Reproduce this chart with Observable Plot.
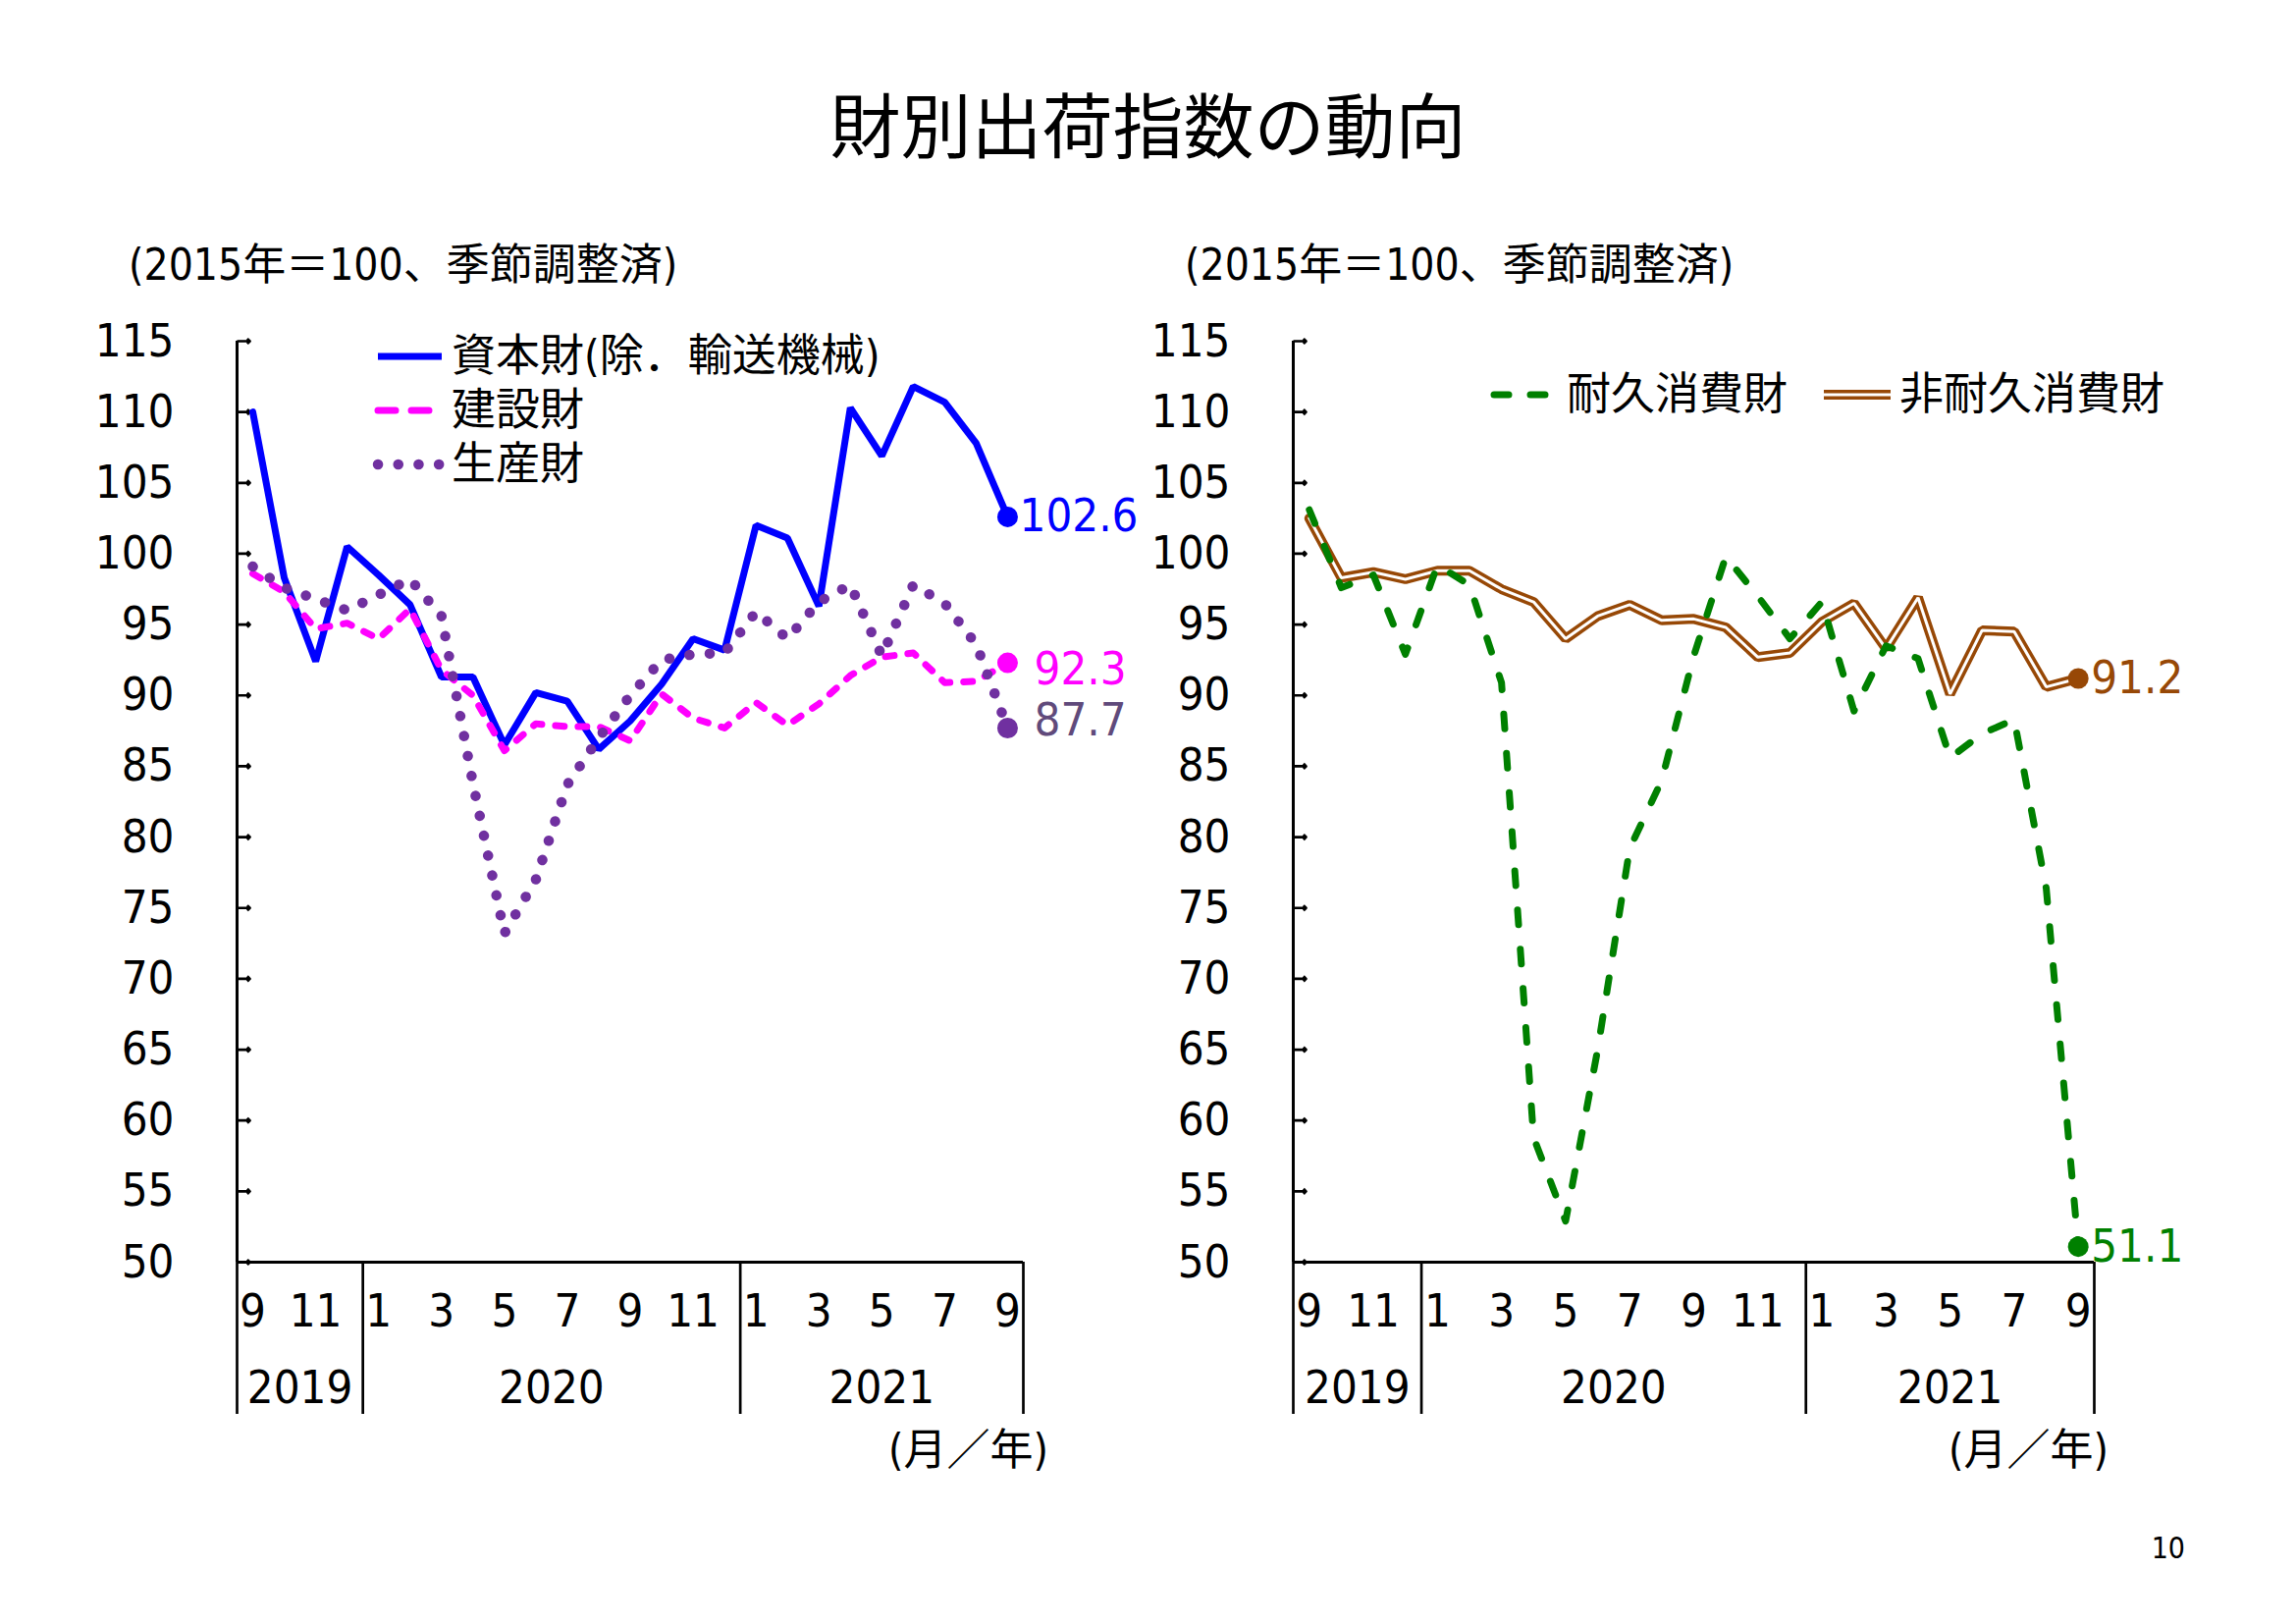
<!DOCTYPE html>
<html>
<head>
<meta charset="utf-8">
<script src="https://cdn.jsdelivr.net/npm/d3@7"></script>
<script src="https://cdn.jsdelivr.net/npm/@observablehq/plot@0.6"></script>
<style>
  body { margin: 0; background: #fff; }
  #page { position: relative; width: 2339px; height: 1654px; overflow: hidden; background: #fff; color: #000;
    font-family: "Liberation Sans Narrow", "Arial Narrow", "DejaVu Sans Condensed", "Noto Sans CJK JP", sans-serif; }
  .abs { position: absolute; white-space: nowrap; line-height: 1.2; transform: translateY(-50%); }
  .plot { position: absolute; }
</style>
</head>
<body>
<div id="page"></div>
<script>
// ---------------- data ----------------
const monthLabels = ["9","10","11","12","1","2","3","4","5","6","7","8","9","10","11","12","1","2","3","4","5","6","7","8","9"];
const yearOfMonth = [2019,2019,2019,2019,2020,2020,2020,2020,2020,2020,2020,2020,2020,2020,2020,2020,2021,2021,2021,2021,2021,2021,2021,2021,2021];

// 資本財(除.輸送機械)
const capitalGoods = [110.0, 98.3, 92.4, 100.5, 98.5, 96.4, 91.3, 91.3, 86.5, 90.2, 89.6, 86.2, 88.2, 90.8, 94.0, 93.2, 102.0, 101.1, 96.3, 110.3, 106.9, 111.8, 110.7, 107.8, 102.6];
// 建設財
const constructionGoods = [98.6, 97.3, 94.7, 95.1, 94.0, 96.1, 91.8, 90.0, 86.1, 88.0, 87.8, 87.8, 86.8, 90.1, 88.4, 87.7, 89.5, 87.9, 89.4, 91.4, 92.7, 93.0, 90.9, 91.0, 92.3];
// 生産財
const producerGoods = [99.1, 97.6, 96.8, 96.0, 97.1, 98.2, 95.6, 83.8, 73.2, 77.0, 83.7, 87.0, 90.0, 92.5, 92.9, 93.0, 95.9, 94.0, 96.6, 97.8, 92.8, 97.8, 96.5, 93.6, 87.7];
// 耐久消費財
const durableGoods = [103.1, 97.6, 98.5, 92.9, 99.2, 97.8, 90.9, 58.8, 52.9, 65.0, 79.2, 84.0, 92.8, 99.8, 97.0, 94.0, 96.6, 88.9, 93.5, 92.6, 85.6, 87.3, 88.3, 76.4, 51.1];
// 非耐久消費財
const nondurableGoods = [102.5, 98.3, 98.7, 98.2, 98.8, 98.8, 97.5, 96.6, 94.0, 95.6, 96.4, 95.3, 95.4, 94.8, 92.7, 93.0, 95.2, 96.5, 93.3, 96.9, 90.1, 94.6, 94.5, 90.6, 91.2];

const yTicks = [50, 55, 60, 65, 70, 75, 80, 85, 90, 95, 100, 105, 110, 115];
const yDomain = [50, 115];

const titleText = "財別出荷指数の動向";
const unitText = "(2015年＝100、季節調整済)";
const axisUnitText = "(月／年)";
const pageNumber = "10";

// ---------------- styling ----------------
const FONT = `"Liberation Sans Narrow","Arial Narrow","DejaVu Sans Condensed","Noto Sans CJK JP",sans-serif`;
const CJK = `"Noto Sans CJK JP",sans-serif`;
const FS = 47;

const n = monthLabels.length;
const xDomain = [-0.5, n - 0.5];
const monthTicks = d3.range(0, n, 2);
const yearBounds = [xDomain[0], ...d3.range(n).filter(i => monthLabels[i] === "1").map(i => i - 0.5), xDomain[1]];
const yearCenters = d3.pairs(yearBounds).map(([a, b]) => (a + b) / 2);

const toRows = arr => arr.map((v, i) => ({i, v}));

function chartWithLabels(cfg) {
  const {ends} = cfg;
  return Plot.plot({
    width: cfg.width, height: 1200,
    marginTop: 47, marginBottom: 215, marginLeft: cfg.marginLeft, marginRight: cfg.marginRight,
    x: {type: "linear", domain: xDomain},
    y: {type: "linear", domain: yDomain},
    style: {fontFamily: FONT, fontSize: FS + "px", background: "transparent", color: "black", overflow: "visible"},
    marks: [
      Plot.axisY(yTicks, {tickSize: 0, tickPadding: 64, fontSize: FS, label: null}),
      Plot.vector(yTicks, {y: d => d, frameAnchor: "left", rotate: 90, length: 13, anchor: "start",
        stroke: "black", strokeWidth: 2.7, strokeLinecap: "butt"}),
      Plot.axisX(monthTicks, {tickSize: 0, tickPadding: 32, fontSize: FS, label: null, tickFormat: i => monthLabels[i]}),
      Plot.axisX(yearBounds, {tickSize: 155, strokeWidth: 2.7, label: null, tickFormat: () => ""}),
      Plot.axisX(yearCenters, {tickSize: 0, tickPadding: 110, fontSize: FS, label: null, tickFormat: c => String(yearOfMonth[Math.round(c)])}),
      Plot.ruleX([xDomain[0]], {stroke: "black", strokeWidth: 3}),
      Plot.ruleY([yDomain[0]], {stroke: "black", strokeWidth: 3}),
      ...cfg.lines,
      ...ends.map(e => Plot.dot([e], {x: "i", y: "v", r: 10.5, fill: e.color})),
      ...ends.map(e => Plot.text([e], {x: "i", y: "v", text: d => d.v.toFixed(1), fill: e.labelColor,
        dx: e.dx, dy: e.dy, textAnchor: "start", fontSize: FS}))
    ]
  });
}

const BLUE = "#0000FF", MAGENTA = "#FF00FF", PURPLE = "#7030A0", GREEN = "#008000", BROWN = "#974806";

const capRows = toRows(capitalGoods), conRows = toRows(constructionGoods), proRows = toRows(producerGoods);
const durRows = toRows(durableGoods), ndRows = toRows(nondurableGoods);

const left = chartWithLabels({
  width: 1170, marginLeft: 241, marginRight: 128,
  lines: [
    Plot.line(capRows, {x: "i", y: "v", stroke: BLUE, strokeWidth: 7, strokeLinejoin: "miter"}),
    Plot.line(conRows, {x: "i", y: "v", stroke: MAGENTA, strokeWidth: 7, strokeDasharray: "9,14", strokeLinecap: "round"}),
    Plot.line(proRows, {x: "i", y: "v", stroke: PURPLE, strokeWidth: 10.5, strokeDasharray: "0.1,20.6", strokeLinecap: "round"})
  ],
  ends: [
    {i: n - 1, v: capitalGoods[n - 1], color: BLUE, labelColor: BLUE, dx: 12, dy: 0},
    {i: n - 1, v: constructionGoods[n - 1], color: MAGENTA, labelColor: MAGENTA, dx: 27, dy: 7},
    {i: n - 1, v: producerGoods[n - 1], color: PURPLE, labelColor: "#604A7B", dx: 27, dy: -8}
  ]
});

const right = chartWithLabels({
  width: 1169, marginLeft: 147, marginRight: 206,
  lines: [
    Plot.line(ndRows, {x: "i", y: "v", stroke: BROWN, strokeWidth: 10, strokeLinejoin: "miter"}),
    Plot.line(ndRows, {x: "i", y: "v", stroke: "white", strokeWidth: 3, strokeLinejoin: "miter"}),
    Plot.line(durRows, {x: "i", y: "v", stroke: GREEN, strokeWidth: 7, strokeDasharray: "15,25", strokeLinecap: "round"})
  ],
  ends: [
    {i: n - 1, v: nondurableGoods[n - 1], color: BROWN, labelColor: BROWN, dx: 13, dy: 0},
    {i: n - 1, v: durableGoods[n - 1], color: GREEN, labelColor: GREEN, dx: 13, dy: 0}
  ]
});

const page = d3.select("#page");
page.append(() => left).attr("class", "plot").style("left", "0px").style("top", "300px");
page.append(() => right).attr("class", "plot").style("left", "1170px").style("top", "300px");

function text(str, x, cy, fs, opts = {}) {
  const d = page.append("div").attr("class", "abs").text(str)
    .style("top", cy + "px").style("font-size", fs + "px");
  if (opts.align === "center") d.style("left", "0px").style("width", "2339px").style("text-align", "center");
  else if (opts.align === "right") d.style("right", (2339 - x) + "px");
  else d.style("left", x + "px");
  if (opts.font) d.style("font-family", opts.font);
  if (opts.weight) d.style("font-weight", opts.weight);
  return d;
}

text(titleText, 0, 124, 72, {align: "center", font: CJK, weight: 400});
text(unitText, 131, 270, 44);
text(unitText, 1207, 270, 44);
text(axisUnitText, 1068, 1477, 44, {align: "right"});
text(axisUnitText, 2148, 1477, 44, {align: "right"});
text(pageNumber, 2226, 1577, 30, {align: "right"});

// legends
function sample(x1, x2, cy, attrs) {
  const h = 30;
  const svg = page.append("svg").attr("width", x2 - x1 + 20).attr("height", h)
    .style("position", "absolute").style("left", (x1 - 10) + "px").style("top", (cy - h / 2) + "px");
  attrs.forEach(a => {
    const l = svg.append("line").attr("x1", 10).attr("x2", x2 - x1 + 10).attr("y1", h / 2).attr("y2", h / 2);
    Object.entries(a).forEach(([k, v]) => l.attr(k, v));
  });
}
const legendLeft = [
  {label: "資本財(除．輸送機械)", cy: 363, style: [{stroke: BLUE, "stroke-width": 7}]},
  {label: "建設財", cy: 418, style: [{stroke: MAGENTA, "stroke-width": 7, "stroke-dasharray": "18,16", "stroke-linecap": "round"}]},
  {label: "生産財", cy: 473, style: [{stroke: PURPLE, "stroke-width": 10.5, "stroke-dasharray": "0.1,20.6", "stroke-linecap": "round"}]}
];
legendLeft.forEach(e => {
  sample(385, 450, e.cy, e.style);
  text(e.label, 460, e.cy, 45);
});
sample(1522, 1580, 402, [{stroke: GREEN, "stroke-width": 7, "stroke-dasharray": "15,22", "stroke-linecap": "round"}]);
text("耐久消費財", 1596, 402, 45);
sample(1858, 1926, 402, [{stroke: BROWN, "stroke-width": 10}, {stroke: "white", "stroke-width": 3}]);
text("非耐久消費財", 1935, 402, 45);
</script>
</body>
</html>
